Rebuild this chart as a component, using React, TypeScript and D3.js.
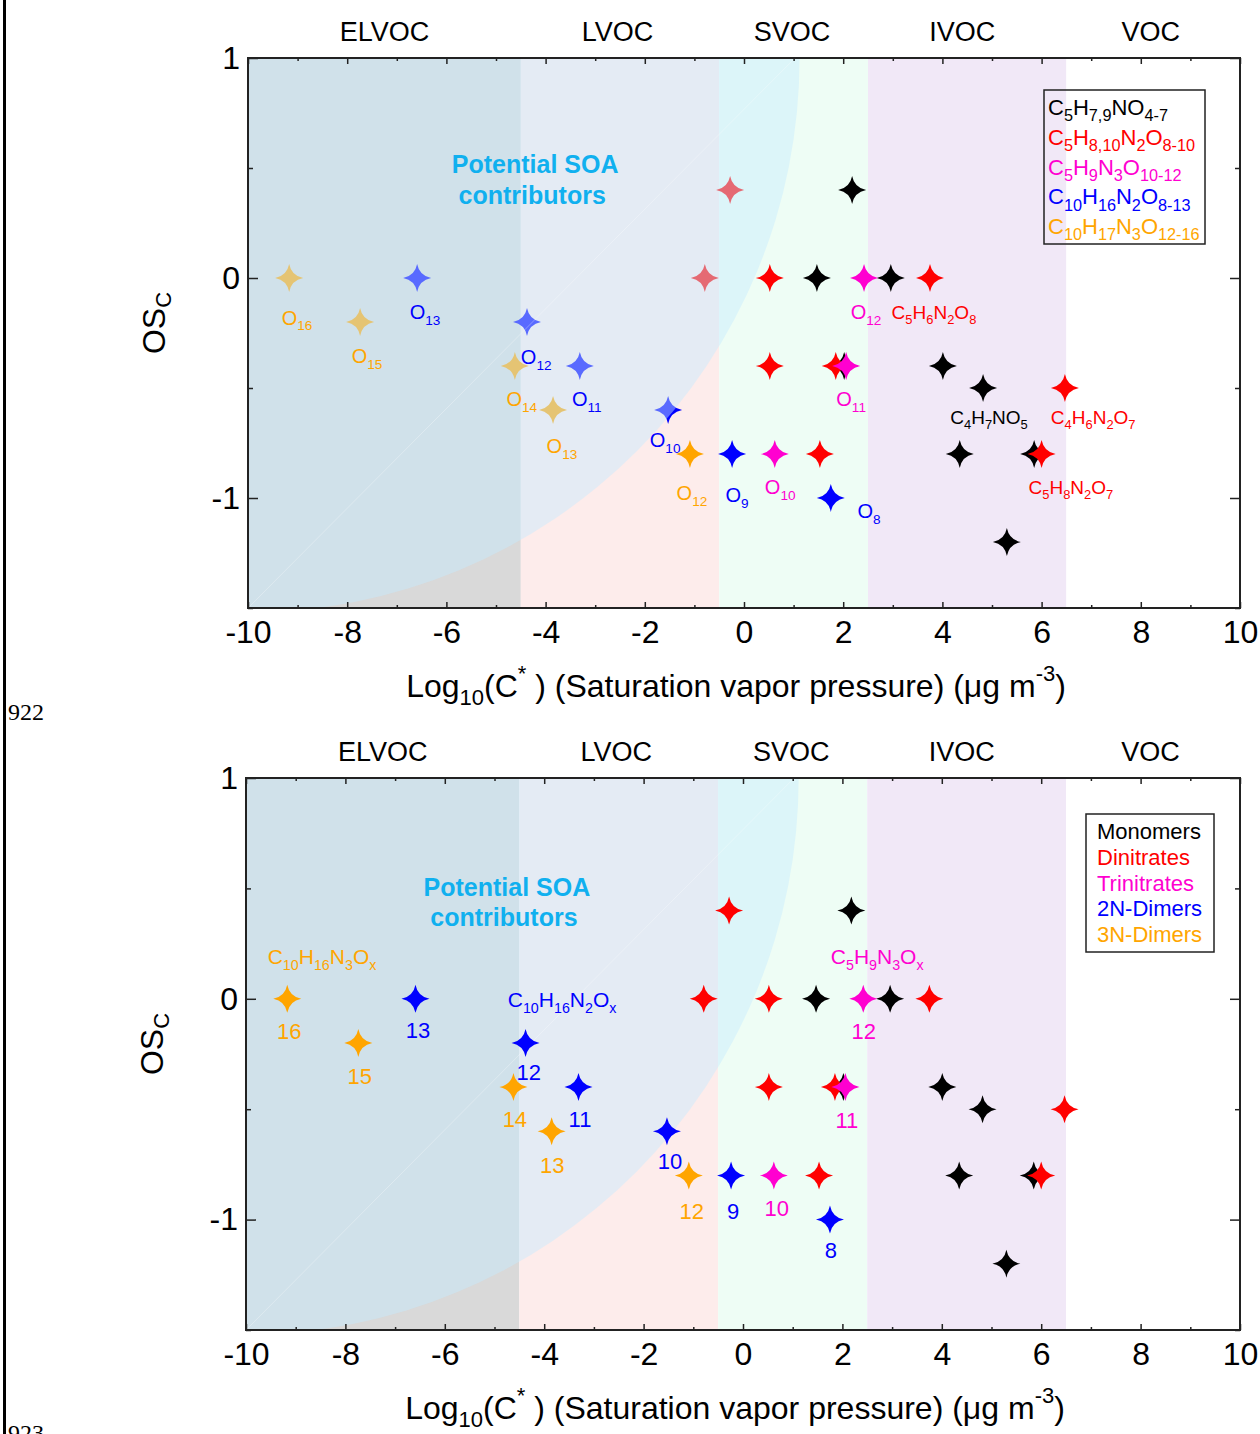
import React, { useEffect, useRef } from "react";
import * as d3 from "d3";

const FONT = "'Liberation Sans', Arial, Helvetica, sans-serif";

// series
const categories = ["Monomers", "Dinitrates", "Trinitrates", "2N-Dimers", "3N-Dimers"];
const seriesColors = ["#000000", "#ff0000", "#ff00d0", "#0000ff", "#ffa500"];
const formulaNames = ["C5H7,9NO4-7", "C5H8,10N2O8-10", "C5H9N3O10-12", "C10H16N2O8-13", "C10H17N3O12-16"];

const monomerX = [2.18, 1.47, 2.96, 2.02, 4.01, 4.82, 4.35, 5.85, 5.3];
const monomerY = [0.4, 0, 0, -0.4, -0.4, -0.5, -0.8, -0.8, -1.2];
const dinitrateX = [-0.28, -0.79, 0.52, 3.75, 0.52, 1.85, 6.47, 1.53, 6.0];
const dinitrateY = [0.4, 0, 0, 0, -0.4, -0.4, -0.5, -0.8, -0.8];
const trinitrateX = [2.42, 2.06, 0.62];
const trinitrateY = [0, -0.4, -0.8];
const dimer2NX = [-6.59, -4.375, -3.31, -1.53, -0.24, 1.75];
const dimer2NY = [0, -0.2, -0.4, -0.6, -0.8, -1.0];
const dimer3NX = [-9.17, -7.74, -4.62, -3.85, -1.09];
const dimer3NY = [0, -0.2, -0.4, -0.6, -0.8];

const seriesX = [monomerX, dinitrateX, trinitrateX, dimer2NX, dimer3NX];
const seriesY = [monomerY, dinitrateY, trinitrateY, dimer2NY, dimer3NY];

// volatility classes
const zoneNames = ["ELVOC", "LVOC", "SVOC", "IVOC", "VOC"];
const zoneEdges = [-10, -4.5, -0.5, 2.5, 6.5, 10];
const zoneColors = ["#d9d9d9", "#fdeceb", "#eefdf5", "#f1e8f7", "#ffffff"];
const zoneLabelX = [-7.25, -2.55, 0.97, 4.4, 8.2];

// ticks
const xTicks = [-10, -8, -6, -4, -2, 0, 2, 4, 6, 8, 10];
const xMinor = [-9, -7, -5, -3, -1, 1, 3, 5, 7, 9];
const yTicks = [-1, 0, 1];
const yMinor = [-1.5, -0.5, 0.5];

// "potential SOA contributors" area: ellipse around (-10, 1) in data units
const soaRx = 11.12;
const soaRy = 2.52;

// annotations: [text, x, y, series]
const topLabels: [string, number, number, number][] = [
  ["O16", -9.01, -0.18, 4],
  ["O15", -7.6, -0.355, 4],
  ["O13", -6.43, -0.155, 3],
  ["O12", -4.19, -0.36, 3],
  ["O14", -4.48, -0.55, 4],
  ["O11", -3.17, -0.55, 3],
  ["O13", -3.67, -0.764, 4],
  ["O10", -1.59, -0.736, 3],
  ["O12", -1.05, -0.977, 4],
  ["O9", -0.14, -0.986, 3],
  ["O10", 0.73, -0.95, 2],
  ["O8", 2.52, -1.06, 3],
  ["O12", 2.46, -0.155, 2],
  ["C5H6N2O8", 3.83, -0.155, 1],
  ["O11", 2.16, -0.55, 2],
  ["C4H7NO5", 4.94, -0.632, 0],
  ["C4H6N2O7", 7.04, -0.632, 1],
  ["C5H8N2O7", 6.59, -0.95, 1],
];

const bottomLabels: [string, number, number, number][] = [
  ["C10H16N3Ox", -8.47, 0.19, 4],
  ["C10H16N2Ox", -3.64, -0.005, 3],
  ["C5H9N3Ox", 2.7, 0.19, 2],
  ["16", -9.13, -0.146, 4],
  ["15", -7.71, -0.35, 4],
  ["13", -6.54, -0.14, 3],
  ["12", -4.31, -0.33, 3],
  ["14", -4.59, -0.544, 4],
  ["11", -3.28, -0.544, 3],
  ["13", -3.84, -0.753, 4],
  ["10", -1.47, -0.735, 3],
  ["12", -1.03, -0.96, 4],
  ["9", -0.2, -0.96, 3],
  ["10", 0.68, -0.947, 2],
  ["8", 1.77, -1.137, 3],
  ["12", 2.43, -0.146, 2],
  ["11", 2.09, -0.55, 2],
];

const star4 = {
  draw(ctx: any, size: number) {
    const r = Math.sqrt(size);
    const c = r * 0.16;
    ctx.moveTo(0, -r);
    ctx.quadraticCurveTo(c, -c, r, 0);
    ctx.quadraticCurveTo(c, c, 0, r);
    ctx.quadraticCurveTo(-c, c, -r, 0);
    ctx.quadraticCurveTo(-c, -c, 0, -r);
    ctx.closePath();
  },
};
const starD = d3.symbol().type(star4 as any).size(14 * 14)() as string;

function parseFormula(t: string, plain: boolean) {
  const segs: { t: string; sub: boolean }[] = [];
  let prevChar = "";
  let prevSub = false;
  for (const ch of t) {
    const isSub = !plain && /[0-9,\-x]/.test(ch) && (prevSub || /[A-Z]/.test(prevChar));
    if (segs.length && segs[segs.length - 1].sub === isSub) segs[segs.length - 1].t += ch;
    else segs.push({ t: ch, sub: isSub });
    prevChar = ch;
    prevSub = isSub;
  }
  return segs;
}

function Formula({ text, x, y, size, fill, anchor = "middle", plain = false, subRatio = 0.68 }: any) {
  const segs = parseFormula(text, plain);
  const shift = size * 0.28;
  let prev = false;
  return (
    <text x={x} y={y} fontSize={size} fill={fill} textAnchor={anchor} fontFamily={FONT}>
      {segs.map((s, i) => {
        const dy = s.sub && !prev ? shift : !s.sub && prev ? -shift : 0;
        prev = s.sub;
        return (
          <tspan key={i} dy={dy || undefined} fontSize={s.sub ? size * subRatio : undefined}>
            {s.t}
          </tspan>
        );
      })}
    </text>
  );
}

function Axis({ scale, orient, values, size, labels, pad = 8, transform }: any) {
  const ref = useRef<SVGGElement>(null);
  useEffect(() => {
    const g = d3.select(ref.current);
    g.selectAll("*").remove();
    const make =
      orient === "bottom" ? d3.axisBottom : orient === "top" ? d3.axisTop : orient === "left" ? d3.axisLeft : d3.axisRight;
    const axis = make(scale)
      .tickValues(values)
      .tickSize(-size)
      .tickPadding(pad)
      .tickFormat((d: any) => (labels ? String(d) : ""));
    g.call(axis as any);
    g.select(".domain").remove();
    g.attr("font-size", 32).attr("font-family", FONT);
    g.selectAll("line").attr("stroke", "#222").attr("stroke-width", 1.5);
    g.selectAll("text").attr("fill", "#000");
  });
  return <g ref={ref} transform={transform} />;
}

function Chart({ frame, overlayOnTop, labels, legend, soa, id }: any) {
  const x = d3.scaleLinear().domain([-10, 10]).range([frame.left, frame.right]);
  const y = d3.scaleLinear().domain([-1.5, 1]).range([frame.bottom, frame.top]);
  const clip = `clip-${id}`;

  const overlay = (
    <g clipPath={`url(#${clip})`}>
      <ellipse
        cx={x(-10)}
        cy={y(1)}
        rx={x(-10 + soaRx) - x(-10)}
        ry={y(1 - soaRy) - y(1)}
        fill="rgb(197,235,255)"
        fillOpacity={0.45}
      />
      <line x1={x(-10)} y1={y(-1.5)} x2={x(1.03)} y2={y(1)} stroke="#ffffff" strokeOpacity={0.3} strokeWidth={1} />
    </g>
  );

  const points = (
    <g>
      {seriesX.map((xs, si) =>
        xs.map((xv, i) => (
          <path key={`${si}-${i}`} d={starD} transform={`translate(${x(xv)},${y(seriesY[si][i])})`} fill={seriesColors[si]} />
        ))
      )}
    </g>
  );

  return (
    <g>
      <defs>
        <clipPath id={clip}>
          <rect x={frame.left} y={frame.top} width={frame.right - frame.left} height={frame.bottom - frame.top} />
        </clipPath>
      </defs>
      {zoneNames.map((z, i) => (
        <rect
          key={z}
          x={x(zoneEdges[i])}
          y={frame.top}
          width={x(zoneEdges[i + 1]) - x(zoneEdges[i])}
          height={frame.bottom - frame.top}
          fill={zoneColors[i]}
        />
      ))}
      {overlayOnTop ? points : overlay}
      {overlayOnTop ? overlay : points}

      {zoneNames.map((z, i) => (
        <text key={z} x={x(zoneLabelX[i])} y={frame.top - 17} fontSize={27} fontFamily={FONT} textAnchor="middle" fill="#000">
          {z}
        </text>
      ))}

      {soa.map((s: any, i: number) => (
        <text
          key={i}
          x={x(s[1])}
          y={y(s[2]) + 9}
          fontSize={25}
          fontWeight="bold"
          fontFamily={FONT}
          textAnchor="middle"
          fill="#10b0ef"
        >
          {s[0]}
        </text>
      ))}

      {labels.map((l: any, i: number) => (
        <Formula key={i} text={l[0]} x={x(l[1])} y={y(l[2]) + l[4] * 0.36} size={l[4]} fill={seriesColors[l[3]]} />
      ))}

      <Axis scale={x} orient="bottom" values={xTicks} size={6} labels pad={12} transform={`translate(0,${frame.bottom})`} />
      <Axis scale={x} orient="bottom" values={xMinor} size={3} transform={`translate(0,${frame.bottom})`} />
      <Axis scale={x} orient="top" values={xTicks} size={6} transform={`translate(0,${frame.top})`} />
      <Axis scale={x} orient="top" values={xMinor} size={3} transform={`translate(0,${frame.top})`} />
      <Axis scale={y} orient="left" values={yTicks} size={10} labels pad={8} transform={`translate(${frame.left},0)`} />
      <Axis scale={y} orient="left" values={yMinor} size={5} transform={`translate(${frame.left},0)`} />
      <Axis scale={y} orient="right" values={yTicks} size={10} transform={`translate(${frame.right},0)`} />
      <Axis scale={y} orient="right" values={yMinor} size={5} transform={`translate(${frame.right},0)`} />
      <rect
        x={frame.left}
        y={frame.top}
        width={frame.right - frame.left}
        height={frame.bottom - frame.top}
        fill="none"
        stroke="#222"
        strokeWidth={2}
      />

      <text x={(frame.left + frame.right) / 2 - 8} y={frame.bottom + 89} fontSize={32} fontFamily={FONT} textAnchor="middle" fill="#000">
        Log
        <tspan dy={8} fontSize={22}>10</tspan>
        <tspan dy={-8}>(C</tspan>
        <tspan dy={-16} fontSize={22}>*</tspan>
        <tspan dy={16}> ) (Saturation vapor pressure) (μg m</tspan>
        <tspan dy={-16} fontSize={22}>-3</tspan>
        <tspan dy={16}>)</tspan>
      </text>

      <text
        transform={`translate(${frame.left - 83},${(frame.top + frame.bottom) / 2 - 10}) rotate(-90)`}
        fontSize={32}
        fontFamily={FONT}
        textAnchor="middle"
        fill="#000"
      >
        OS
        <tspan dy={6} fontSize={22}>C</tspan>
      </text>

      <rect x={legend.x} y={legend.y} width={legend.w} height={legend.h} fill="none" stroke="#222" strokeWidth={1.5} />
      {legend.items.map((t: string, i: number) => (
        <Formula
          key={i}
          text={t}
          x={legend.x + legend.pad}
          y={legend.first + i * legend.step}
          size={legend.size}
          fill={seriesColors[i]}
          anchor="start"
          plain={legend.plain}
          subRatio={0.74}
        />
      ))}
    </g>
  );
}

export default function App() {
  const topCfg = {
    id: "top",
    frame: { left: 248, right: 1240, top: 58, bottom: 608 },
    overlayOnTop: true,
    labels: topLabels.map((l) => [...l, l[0].startsWith("C") ? 19 : 20]),
    legend: { x: 1044, y: 90, w: 161, h: 154, pad: 4, first: 115, step: 29.8, size: 22, items: formulaNames, plain: false },
    soa: [
      ["Potential SOA", -4.21, 0.518],
      ["contributors", -4.27, 0.377],
    ],
  };
  const bottomCfg = {
    id: "bottom",
    frame: { left: 246, right: 1240, top: 778, bottom: 1330 },
    overlayOnTop: false,
    labels: bottomLabels.map((l) => [...l, l[0].startsWith("C") ? 21 : 22]),
    legend: { x: 1086, y: 814, w: 128, h: 138, pad: 11, first: 839, step: 25.8, size: 22, items: categories, plain: true },
    soa: [
      ["Potential SOA", -4.75, 0.506],
      ["contributors", -4.81, 0.37],
    ],
  };
  return (
    <svg width={1260} height={1434} style={{ position: "absolute", left: 0, top: 0, background: "#fff" }}>
      <rect x={0} y={0} width={1260} height={1434} fill="#fff" />
      <rect x={3} y={0} width={3} height={1434} fill="#000" />
      <text x={8} y={720} fontSize={24} fontFamily="'Liberation Serif', 'Times New Roman', serif" fill="#000">
        922
      </text>
      <text x={8} y={1441} fontSize={24} fontFamily="'Liberation Serif', 'Times New Roman', serif" fill="#000">
        923
      </text>
      <Chart {...topCfg} />
      <Chart {...bottomCfg} />
    </svg>
  );
}
